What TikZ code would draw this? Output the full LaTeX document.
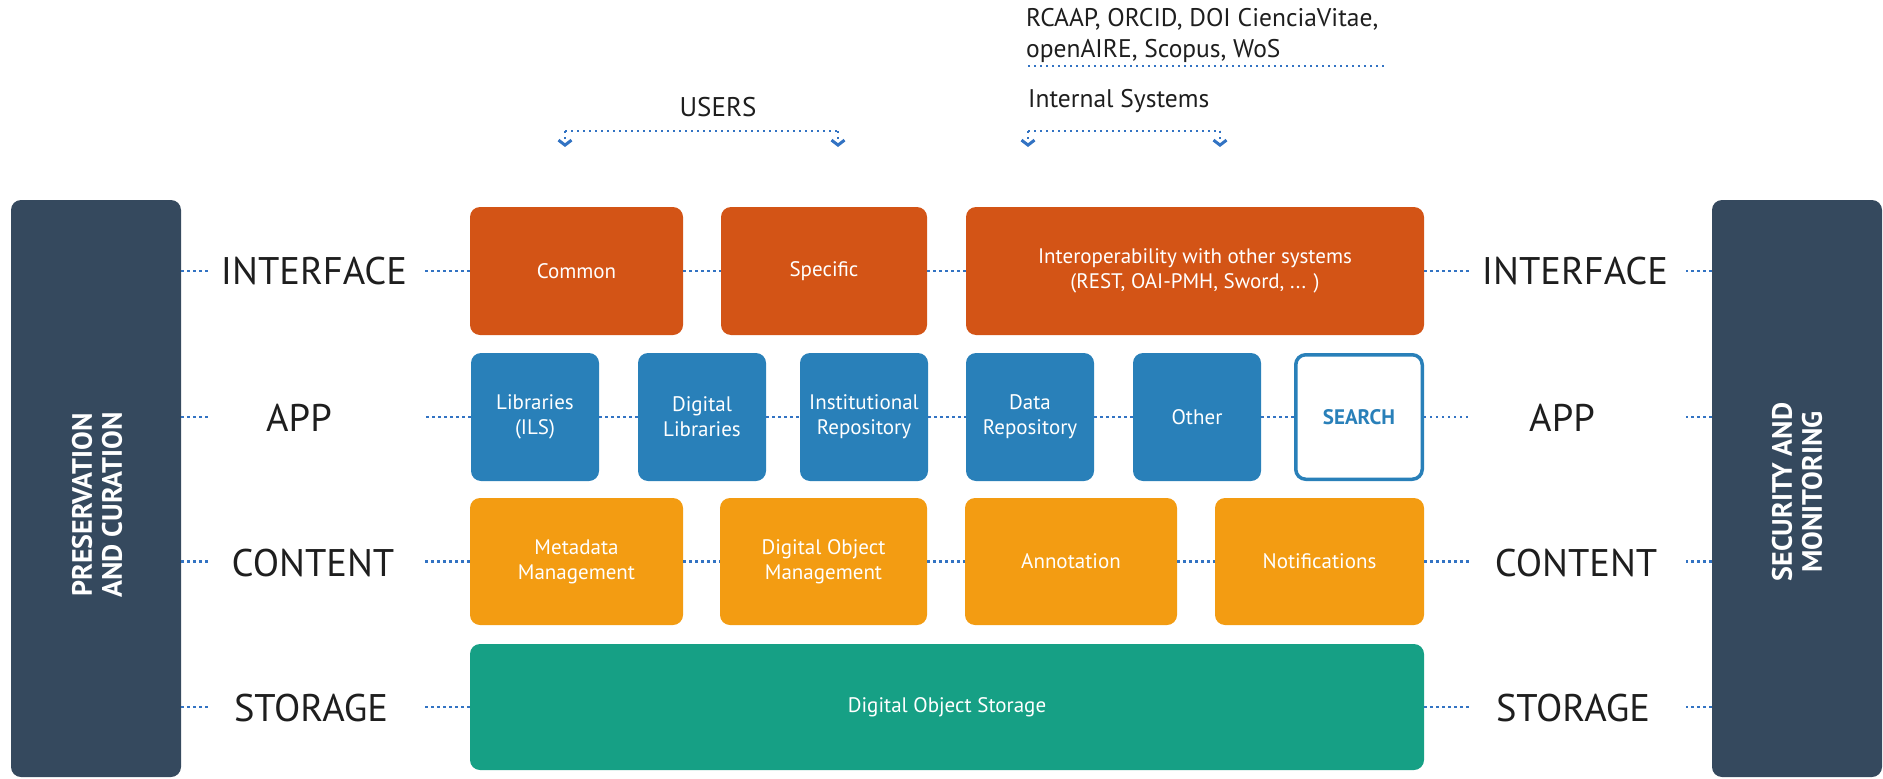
\documentclass[tikz,border=0pt]{standalone}
\usepackage{fontspec}
\setmainfont{PT Sans}
\usetikzlibrary{arrows.meta}
\definecolor{panelc}{RGB}{53,73,94}
\definecolor{ifacec}{RGB}{211,84,22}
\definecolor{appc}{RGB}{41,128,185}
\definecolor{contc}{RGB}{243,156,18}
\definecolor{storc}{RGB}{22,160,133}
\definecolor{dotc}{RGB}{50,115,195}
\definecolor{txtc}{RGB}{30,30,30}
\begin{document}
\begin{tikzpicture}[x=1pt,y=-1pt,
  blk/.style={rounded corners=10pt, inner sep=0pt, text=white, align=center,
    font=\fontsize{21}{25}\selectfont},
  ifbox/.style={blk, fill=ifacec, minimum height=128pt},
  appbox/.style={blk, fill=appc, minimum height=128pt, minimum width=128pt},
  cbox/.style={blk, fill=contc, minimum height=127pt},
  sbox/.style={blk, fill=storc, minimum height=126pt},
  panel/.style={rounded corners=10pt, fill=panelc, inner sep=0pt, minimum width=170pt, minimum height=577pt},
  paneltxt/.style={rotate=90, text=white, align=center, font=\fontsize{28}{30}\selectfont\bfseries},
  layer/.style={text=txtc, inner sep=0pt, font=\fontsize{38.5}{42}\selectfont},
  toptxt/.style={text=txtc, inner sep=0pt, font=\fontsize{25.5}{31}\selectfont},
  dotline/.style={draw=dotc, line width=2.4pt, dash pattern=on 2.4pt off 3.6pt},
  chev/.style={-{Straight Barb[length=5pt,width=13pt,line width=3pt]}}
]
\useasboundingbox (0,0) rectangle (1883,779);

% side panels
\node[panel] (lp) at (96,488.5) {};
\node[paneltxt] (lpt) at (97,505) {PRESERVATION\\AND CURATION};
\node[panel] (rp) at (1797,488.5) {};
\node[paneltxt] (rpt) at (1797,492) {SECURITY AND\\MONITORING};

% interface row
\node[ifbox, minimum width=213pt] (common) at (576.5,271) {Common};
\node[ifbox, minimum width=206pt] (specific) at (824,271) {Specific};
\node[ifbox, minimum width=458pt] (interop) at (1195,271) {Interoperability with other systems\\(REST, OAI-PMH, Sword, ... )};

% app row
\node[appbox] (lib) at (535,417) {Libraries\\(ILS)};
\node[appbox] (diglib) at (702,417) {Digital\\Libraries};
\node[appbox] (inst) at (864,417) {Institutional\\Repository};
\node[appbox] (data) at (1030,417) {Data\\Repository};
\node[appbox] (other) at (1197,417) {Other};
\node[blk, draw=appc, line width=3.5pt, fill=white, text=appc, font=\fontsize{21}{25}\selectfont\bfseries, minimum width=126.5pt, minimum height=124.5pt] (search) at (1359,417) {SEARCH};

% content row
\node[cbox, minimum width=213pt] (meta) at (576.5,561.5) {Metadata\\Management};
\node[cbox, minimum width=207pt] (dom) at (823.5,561.5) {Digital Object\\Management};
\node[cbox, minimum width=212pt] (annot) at (1071,561.5) {Annotation};
\node[cbox, minimum width=209pt] (notif) at (1319.5,561.5) {Notifications};

% storage row
\node[sbox, minimum width=954pt] (store) at (947,707) {Digital Object Storage};

% layer labels
\node[layer] (lif) at (314,271) {INTERFACE};
\node[layer] (lap) at (299,418) {APP};
\node[layer] (lco) at (313,563) {CONTENT};
\node[layer] (lst) at (311,708) {STORAGE};
\node[layer] (rif) at (1575,271) {INTERFACE};
\node[layer] (rap) at (1562,418) {APP};
\node[layer] (rco) at (1576,563) {CONTENT};
\node[layer] (rst) at (1573,708) {STORAGE};

% dotted connectors, left side
\foreach \b in {common,lib,meta,store}{
  \draw[dotline] (lp.east |- \b.west) -- ++(27,0);
  \draw[dotline] (\b.west) -- ++(-47,0);
}
% dotted connectors, right side
\foreach \b in {interop,search,notif,store}{
  \draw[dotline] (\b.east) -- ++(46,0);
  \draw[dotline] (rp.west |- \b.east) -- ++(-26,0);
}
% between boxes
\draw[dotline] (common.east) -- (specific.west);
\draw[dotline] (specific.east) -- (interop.west);
\draw[dotline] (lib.east) -- (diglib.west);
\draw[dotline] (diglib.east) -- (inst.west);
\draw[dotline] (inst.east) -- (data.west);
\draw[dotline] (data.east) -- (other.west);
\draw[dotline] (other.east) -- (search.west);
\draw[dotline] (meta.east) -- (dom.west);
\draw[dotline] (dom.east) -- (annot.west);
\draw[dotline] (annot.east) -- (notif.west);

% top labels
\node[toptxt, anchor=west, align=left] (ext) at (1026,35) {RCAAP, ORCID, DOI CienciaVitae,\\openAIRE, Scopus, WoS};
\coordinate (exa) at (1028,66);
\coordinate (exb) at (1387,66);
\draw[dotline] (exa) -- (exb);
\node[toptxt, anchor=west] (intsys) at (1028,101) {Internal Systems};
\node[toptxt, font=\fontsize{27}{31}\selectfont] (users) at (718,107) {USERS};

\coordinate (ua) at (565,131);
\coordinate (ub) at (838,131);
\coordinate (ia) at (1028,131);
\coordinate (ib) at (1220,131);
\draw[dotline] (ua) -- (ub);
\draw[dotline] (ia) -- (ib);
\foreach \c in {ua,ub,ia,ib}{
  \draw[dotline, chev] (\c) -- ++(0,16);
}
\end{tikzpicture}
\end{document}
